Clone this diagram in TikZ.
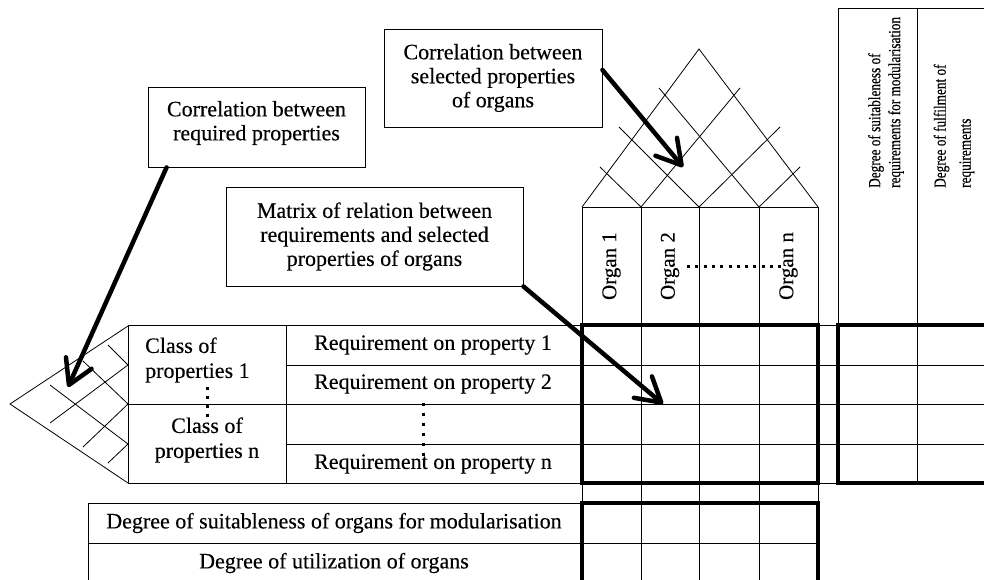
\documentclass[tikz,border=0pt]{standalone}
\usepackage{fontspec}
\setmainfont{Liberation Serif}[FakeBold=0.3]
\newfontfamily\degreefont{Liberation Serif}[FakeStretch=0.78, FakeBold=0.4]
\usetikzlibrary{arrows.meta}
\begin{document}
\begin{tikzpicture}[x=1pt,y=-1pt,
  grid/.style={line width=0.8pt},
  frame/.style={line width=4pt},
  dotrow/.style={line width=3pt, dash pattern=on 3pt off #1},
  callout/.style={draw, line width=0.9pt, align=center, inner sep=0pt,
    font=\fontsize{22}{24}\selectfont},
  pointer/.style={line width=4.5pt, line cap=round,
    -{Straight Barb[length=24pt,width=28pt,round]}},
  cell/.style={font=\fontsize{22}{25}\selectfont, inner sep=0pt},
  organ/.style={font=\fontsize{21}{25}\selectfont, rotate=90, inner sep=0pt},
  degree/.style={rotate=90, inner sep=0pt, align=left, anchor=west},
]
\useasboundingbox (0,0) rectangle (984,579);
\clip (0,0) rectangle (984,579);

% ---- roof: correlation between selected properties of organs
\draw[grid] (582,207) -- (699,49) -- (818,207);
\draw[grid] (641,207) -- (740,88);
\draw[grid] (699,207) -- (780,127);
\draw[grid] (759,207) -- (800,167);
\draw[grid] (759,207) -- (659,88);
\draw[grid] (699,207) -- (619,127);
\draw[grid] (641,207) -- (600,167);

% ---- side roof: correlation between required properties
\draw[grid] (128,326) -- (10,404) -- (128,483);
\draw[grid] (128,444) -- (50,385);
\draw[grid] (128,404) -- (83,361);
\draw[grid] (128,365) -- (108,345);
\draw[grid] (128,365) -- (50,423);
\draw[grid] (128,404) -- (83,447);
\draw[grid] (128,444) -- (108,463);

% ---- organ header and organ columns
\draw[grid] (582,207) rectangle (818,325);
\foreach \x in {582,641,699,759,818} \draw[grid] (\x,207) -- (\x,590);

% ---- requirements table
\draw[grid] (128,325) rectangle (582,483);
\draw[grid] (286,325) -- (286,483);
\draw[grid] (128,325) -- (1000,325);
\draw[grid] (286,365) -- (1000,365);
\draw[grid] (128,404) -- (1000,404);
\draw[grid] (286,444) -- (1000,444);
\draw[grid] (128,483) -- (1000,483);

% ---- right-hand evaluation columns
\draw[grid] (838,8) rectangle (1000,483);
\draw[grid] (917,8) -- (917,483);

% ---- bottom evaluation rows
\draw[grid] (88,503) rectangle (818,600);
\draw[grid] (88,543) -- (818,543);

% ---- heavy frames
\draw[frame] (582,325) rectangle (818,483);
\draw[frame] (838,325) rectangle (1010,483);
\draw[frame] (582,503) rectangle (818,610);

% ---- texts
\node[organ] (org1) at (611.5,266) {Organ 1};
\node[organ] (org2) at (670,266) {Organ 2};
\node[organ] (orgn) at (788.5,266) {Organ n};
\draw[dotrow=5.3pt] (687,266) -- (784,266);

\node[degree, font=\degreefont\fontsize{17}{20}\selectfont] (suitReq) at (886,188)
  {Degree of suitableness of\\requirements for modularisation};
\node[degree, font=\degreefont\fontsize{17}{25}\selectfont] (fulfil) at (954,188)
  {Degree of fulfilment of\\requirements};

\node[cell, anchor=west, align=left] (class1) at (145,360) {Class of\\properties 1};
\node[cell, align=center] (classn) at (207,440) {Class of\\properties n};
\draw[dotrow=6pt] (207,386.5) -- (207,418);

\node[cell] (req1) at (433,345) {Requirement on property 1};
\node[cell] (req2) at (433,384) {Requirement on property 2};
\node[cell] (reqn) at (433,464) {Requirement on property n};
\draw[dotrow=7pt] (423,402.5) -- (423,456);

\node[cell] (suitOrg) at (334,523) {Degree of suitableness of organs for modularisation};
\node[cell] (util) at (334,563) {Degree of utilization of organs};

% ---- callouts and their pointers
\node[callout, minimum width=217pt, minimum height=80pt] (corrReq) at (256.5,127) {};
\node[font=\fontsize{22}{24}\selectfont, align=center, inner sep=0pt] (corrReqText)
  at (256.5,123) {Correlation between\\required properties};
\node[callout, minimum width=218pt, minimum height=98pt] (corrSel) at (493,78)
  {Correlation between\\selected properties\\of organs};
\node[callout, minimum width=297pt, minimum height=99pt] (relMat) at (374.5,236.5)
  {Matrix of relation between\\requirements and selected\\properties of organs};

\coordinate (tipReq) at (68,387);
\coordinate (tipSel) at (683,167);
\coordinate (tipMat) at (663,404);
\draw[pointer] ([xshift=19pt]corrReq.south west) -- (tipReq);
\draw[pointer] ([yshift=8pt]corrSel.east) -- (tipSel);
\draw[pointer] (relMat.south east) -- (tipMat);
\end{tikzpicture}
\end{document}
